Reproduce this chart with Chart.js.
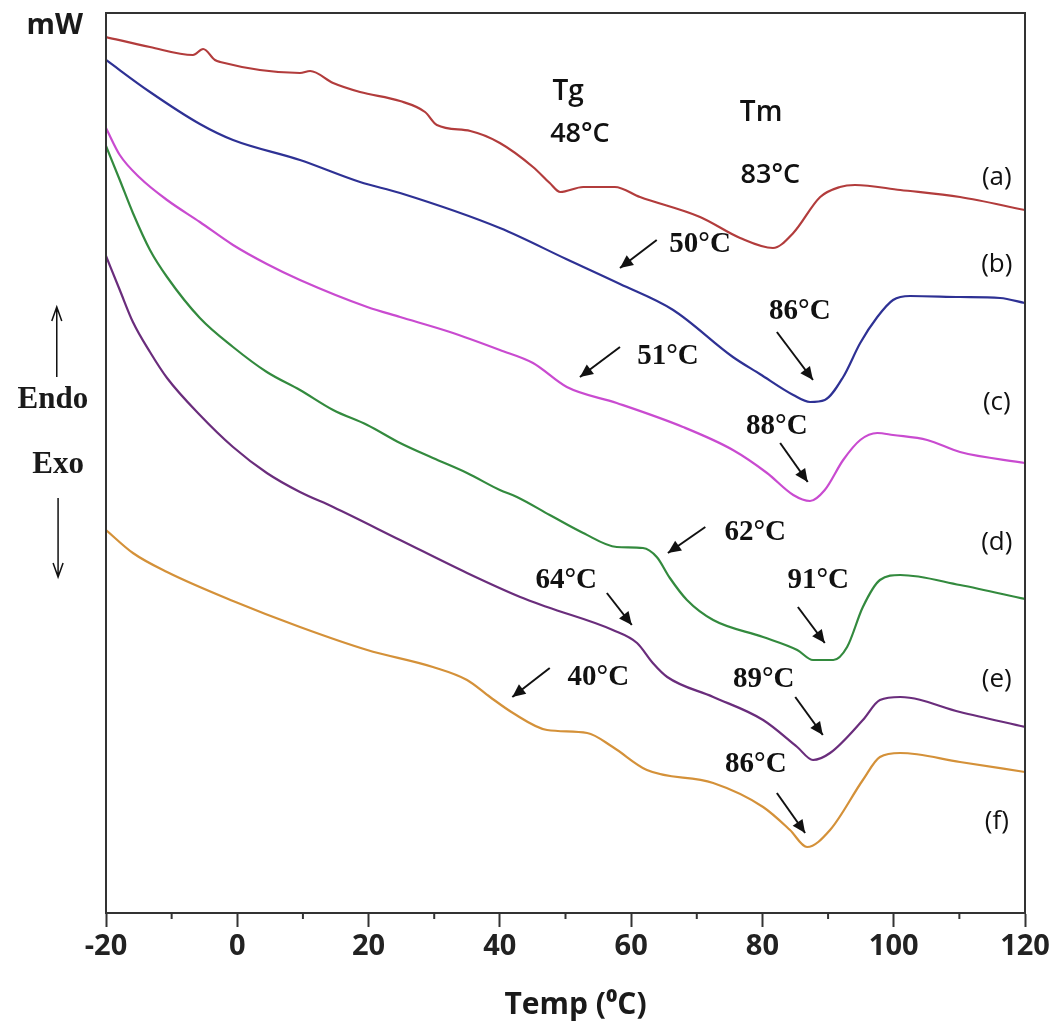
<!DOCTYPE html>
<html><head><meta charset="utf-8">
<script src="https://cdn.jsdelivr.net/npm/chart.js@4.4.0/dist/chart.umd.min.js"></script>
<style>html,body{margin:0;padding:0;background:#fff;}</style>
</head><body>
<canvas id="c" width="1063" height="1033"></canvas>
<script>
// ---- Data (temperature in °C, heat flow in arbitrary mW units) ----
const tempA = [-20,-13.3,-6.75,-5.2,-3.4,-2.6,9.55,11.1,14.6,18.7,24.8,28.6,30.4,35.5,40,45.05,47.6,49.2,52.7,57.5,61.35,70.5,76.6,81.6,84.7,88.8,91.8,94.1,101,110.1,120];
const heatA = [876,866,858,864,853,851,840,842,830,821,812,801,788,782,770,746,730,721,726,726,716,696,675,665,680,716,726,728,723,716,703];

const tempB = [-20,-13.3,-5.7,-0.65,9.55,18.7,24.8,40,50.1,58.3,66.4,75.5,79.6,84.7,87.25,89.5,92.3,94.9,97.5,99.9,102.5,110.1,116.2,120];
const heatB = [853,821,789,773,753,731,720,685,654,629,603,556,539,518,511,513,536,570,596,613,617,616,615,610];

const tempC = [-20,-17.9,-14.8,-10.7,-5.7,-0.65,4.5,9.55,19.8,24.8,32.4,40,45.05,50.2,57.8,67.9,75.5,80.7,84.7,87.25,89.5,92.3,94.9,97.5,99.9,105.1,110.1,120];
const heatC = [785,758,735,713,691,668,649,633,606,596,581,563,550,526,510,486,463,440,418,412,423,453,473,480,478,473,461,450];

const tempD = [-20,-17.9,-15.9,-13.3,-10.7,-5.7,-0.65,4.5,9.55,14.6,19.8,24.8,29.8,35,40,42.6,47.6,52.7,57.8,61.8,63.9,65.9,68.5,72.5,80.1,85.3,87.7,90.8,92.9,95.3,97.9,101,110.1,120];
const heatD = [767,733,700,663,636,595,566,541,523,503,488,470,455,440,423,416,398,380,366,365,356,335,313,293,276,263,253,253,266,306,333,338,328,314];

const tempE = [-20,-17.9,-15.9,-13.3,-10.7,-5.7,-0.65,4.5,9.55,14.6,24.8,35,43.1,47.2,57.2,60.9,63.3,65.5,72.5,80.1,85.3,87.7,90.3,95.3,97.9,101,110.1,120];
const heatE = [657,623,591,561,535,498,466,440,421,406,373,340,316,306,283,270,250,236,216,193,166,153,160,193,213,216,201,186];

const tempF = [-20,-15.9,-10.7,-0.65,9.55,19.8,29.8,35,38.5,42,47.2,53.3,57.2,62.4,72.5,80.1,84.2,86.8,90.3,95.3,97.9,101,110.1,120];
const heatF = [383,360,341,312,286,263,246,233,216,200,183,180,166,143,130,106,83,66,83,133,156,160,151,141];

const xTickValues = [-20,0,20,40,60,80,100,120];
const xMinorTicks = [-10,10,30,50,70,90,110];
const curveNames = ['(a)','(b)','(c)','(d)','(e)','(f)'];
const curveColors = ['#b23c3c','#2e3194','#c94bd0','#338a3e','#6a2d7c','#d49139'];

// ---- Annotation layout (data coordinates) ----
const curveLabelPos = [[115.7,735],[115.7,648],[115.7,510],[115.7,370],[115.7,233],[115.7,91]];
const serifNotes = [
  {t:'50°C', at:[70.5,668], from:[63.9,673], to:[58.3,645]},
  {t:'86°C', at:[85.7,601], from:[82.2,581], to:[87.7,533]},
  {t:'51°C', at:[65.6,556], from:[58.3,566], to:[52.2,536]},
  {t:'88°C', at:[82.2,486], from:[82.7,470], to:[86.9,431]},
  {t:'62°C', at:[78.9,380], from:[71.3,386], to:[65.6,360]},
  {t:'64°C', at:[50.1,332], from:[56.3,320], to:[60.1,288]},
  {t:'91°C', at:[88.5,332], from:[85.4,306], to:[89.5,270]},
  {t:'40°C', at:[55.0,235], from:[47.6,245], to:[41.9,216]},
  {t:'89°C', at:[80.2,233], from:[85.0,216], to:[89.2,178]},
  {t:'86°C', at:[79.0,148], from:[82.2,120], to:[86.5,80]}
];

function pts(t, v){ return t.map((x,i)=>({x:x, y:v[i]})); }
const seriesT = [tempA,tempB,tempC,tempD,tempE,tempF];
const seriesV = [heatA,heatB,heatC,heatD,heatE,heatF];

const datasets = seriesT.map((t,i)=>({
  label: curveNames[i],
  data: pts(t, seriesV[i]),
  borderColor: curveColors[i],
  borderWidth: 2.2,
  pointRadius: 0,
  fill: false,
  cubicInterpolationMode: 'monotone'
}));

function arrow(ctx, x1,y1,x2,y2){
  ctx.beginPath(); ctx.moveTo(x1,y1); ctx.lineTo(x2,y2); ctx.stroke();
  const a = Math.atan2(y2-y1, x2-x1), L=13, W=6;
  ctx.beginPath();
  ctx.moveTo(x2,y2);
  ctx.lineTo(x2 - L*Math.cos(a) + W*Math.sin(a), y2 - L*Math.sin(a) - W*Math.cos(a));
  ctx.lineTo(x2 - L*Math.cos(a) - W*Math.sin(a), y2 - L*Math.sin(a) + W*Math.cos(a));
  ctx.closePath(); ctx.fill();
}

const decor = {
  id:'decor',
  afterDraw(chart){
    const {ctx, chartArea:a, scales:{x,y}} = chart;
    const P = (p)=>[x.getPixelForValue(p[0]), y.getPixelForValue(p[1])];
    ctx.save();
    ctx.strokeStyle='#333'; ctx.lineWidth=2;
    ctx.strokeRect(a.left, a.top, a.right-a.left, a.bottom-a.top);
    xMinorTicks.forEach(t=>{ const px=x.getPixelForValue(t); ctx.beginPath(); ctx.moveTo(px,a.bottom); ctx.lineTo(px,a.bottom+6); ctx.stroke(); });

    ctx.fillStyle='#1a1a1a'; ctx.textAlign='center'; ctx.textBaseline='middle';
    // axis title
    ctx.font='bold 30px "Open Sans"';
    ctx.fillText('Temp (⁰C)', (a.left+a.right)/2 + 10, a.bottom + 92);
    // y unit
    ctx.font='bold 29px "Open Sans"';
    let p = P([-27.8, 887]); ctx.fillText('mW', p[0], p[1]);
    // Endo / Exo
    ctx.font='bold 31px "Liberation Serif"';
    p = P([-28.1, 513]); ctx.fillText('Endo', p[0], p[1]);
    p = P([-27.3, 448]); ctx.fillText('Exo', p[0], p[1]);
    ctx.strokeStyle='#111'; ctx.lineWidth=1.5;
    let u1=P([-27.5,536]), u2=P([-27.5,606]);
    ctx.beginPath(); ctx.moveTo(u1[0],u1[1]); ctx.lineTo(u2[0],u2[1]);
    ctx.moveTo(u2[0]-5,u2[1]+14); ctx.lineTo(u2[0],u2[1]); ctx.lineTo(u2[0]+5,u2[1]+14); ctx.stroke();
    let d1=P([-27.3,415]), d2=P([-27.3,336]);
    ctx.beginPath(); ctx.moveTo(d1[0],d1[1]); ctx.lineTo(d2[0],d2[1]);
    ctx.moveTo(d2[0]-5,d2[1]-14); ctx.lineTo(d2[0],d2[1]); ctx.lineTo(d2[0]+5,d2[1]-14); ctx.stroke();

    // Tg / Tm header notes
    ctx.fillStyle='#111';
    ctx.font='600 28px "Open Sans"';
    p = P([50.4, 821]); ctx.fillText('Tg', p[0], p[1]);
    p = P([79.8, 800]); ctx.fillText('Tm', p[0], p[1]);
    ctx.font='600 27px "Open Sans"';
    p = P([52.2, 779]); ctx.fillText('48°C', p[0], p[1]);
    p = P([81.2, 738]); ctx.fillText('83°C', p[0], p[1]);

    // curve letters
    ctx.font='26px "Open Sans"';
    curveLabelPos.forEach((q,i)=>{ const r=P(q); ctx.fillText(curveNames[i], r[0], r[1]); });

    // transition notes with arrows
    ctx.font='bold 29px "Liberation Serif"';
    ctx.strokeStyle='#111'; ctx.fillStyle='#111'; ctx.lineWidth=2;
    serifNotes.forEach(n=>{
      const c=P(n.at); ctx.fillText(n.t, c[0], c[1]);
      const f=P(n.from), t=P(n.to); arrow(ctx, f[0],f[1],t[0],t[1]);
    });
    ctx.restore();
  }
};

new Chart(document.getElementById('c').getContext('2d'), {
  type:'line',
  data:{datasets},
  options:{
    responsive:false, animation:false, devicePixelRatio:1,
    layout:{padding:{left:106, right:38, top:13, bottom:0}},
    plugins:{legend:{display:false}, tooltip:{enabled:false}},
    scales:{
      x:{type:'linear', min:-20, max:120,
        afterBuildTicks:(s)=>{ s.ticks = xTickValues.map(v=>({value:v})); },
        afterFit:(s)=>{ s.height = 120; },
        ticks:{color:'#222', font:{family:'Open Sans', weight:'bold', size:29}, padding:2, maxRotation:0, autoSkip:false},
        grid:{drawOnChartArea:false, tickLength:14, tickColor:'#333', tickWidth:2},
        border:{color:'#333', width:2}
      },
      y:{min:0, max:900, display:false}
    }
  },
  plugins:[decor]
});
</script>
</body></html>
